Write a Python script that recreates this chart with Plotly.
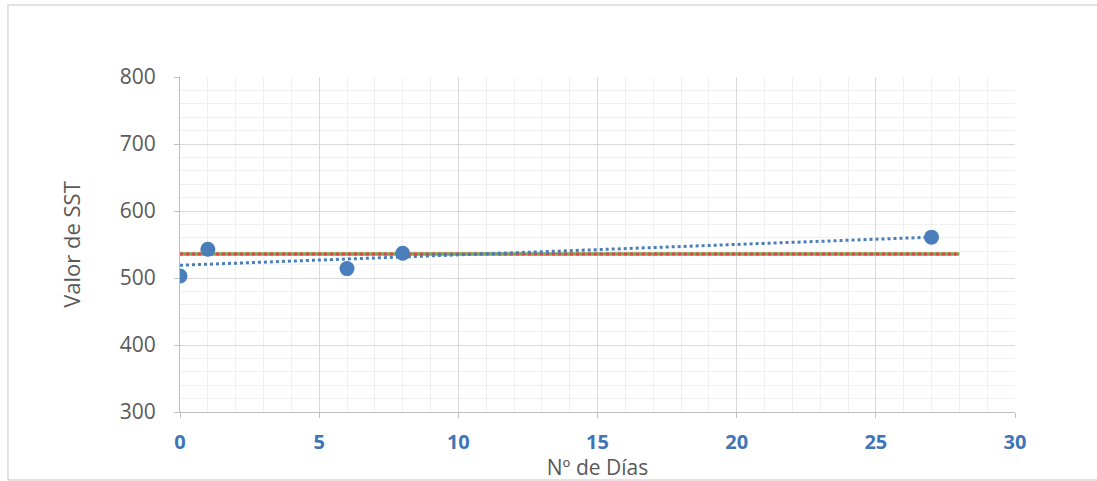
import plotly.graph_objects as go

dias = [0, 1, 6, 8, 27]
sst = [503, 543, 514, 537, 561]
ref_x = [0, 28]
ref_y = [536, 536]
trend_x = [0, 27]
trend_y = [519, 561]
x_ticks = [0, 5, 10, 15, 20, 25, 30]
y_ticks = [300, 400, 500, 600, 700, 800]

fig = go.Figure()
fig.add_trace(go.Scatter(x=ref_x, y=ref_y, mode="lines",
                         line=dict(color="#70AD47", width=3.5), showlegend=False))
fig.add_trace(go.Scatter(x=ref_x, y=ref_y, mode="lines",
                         line=dict(color="#E0474C", width=3, dash="dot"), showlegend=False))
fig.add_trace(go.Scatter(x=trend_x, y=trend_y, mode="lines",
                         line=dict(color="#4A7EBB", width=3, dash="dot"), showlegend=False))
fig.add_trace(go.Scatter(x=dias, y=sst, mode="markers",
                         marker=dict(color="#4A7EBB", size=15), showlegend=False))

fig.update_layout(
    width=1097, height=481,
    margin=dict(l=180, r=82, t=77, b=69),
    plot_bgcolor="white", paper_bgcolor="white",
    font=dict(family="Open Sans, Liberation Sans, sans-serif", color="#595959"),
    shapes=[dict(type="rect", xref="paper", yref="paper",
                 x0=-0.206, x1=1.11, y0=-0.203, y1=1.215,
                 line=dict(color="#D9D9D9", width=1.5))],
)
fig.update_xaxes(
    range=[0, 30], tickvals=x_ticks, ticktext=[str(v) for v in x_ticks],
    automargin=False,
    showgrid=True, gridcolor="#D9D9D9", gridwidth=1,
    minor=dict(dtick=1, showgrid=True, gridcolor="#F0F0F0", gridwidth=1),
    showline=True, linecolor="#BFBFBF", linewidth=1,
    ticks="outside", ticklen=5, tickcolor="#BFBFBF",
    tickfont=dict(size=20, color="#3F75B6", family="Open Sans, sans-serif", weight="bold"),
    ticklabelstandoff=7,
    title=dict(text="Nº de Días", font=dict(size=21, color="#595959"), standoff=2),
    zeroline=False,
)
fig.update_yaxes(
    range=[300, 800], tickvals=y_ticks,
    automargin=False,
    showgrid=True, gridcolor="#D9D9D9", gridwidth=1,
    minor=dict(dtick=20, showgrid=True, gridcolor="#F0F0F0", gridwidth=1),
    showline=True, linecolor="#BFBFBF", linewidth=1,
    ticks="outside", ticklen=5, tickcolor="#BFBFBF",
    tickfont=dict(size=21, color="#595959"),
    ticklabelstandoff=14,
    title=dict(text="Valor de SST", font=dict(size=22, color="#595959"), standoff=33),
    zeroline=False,
)
fig.write_html("out.html")
